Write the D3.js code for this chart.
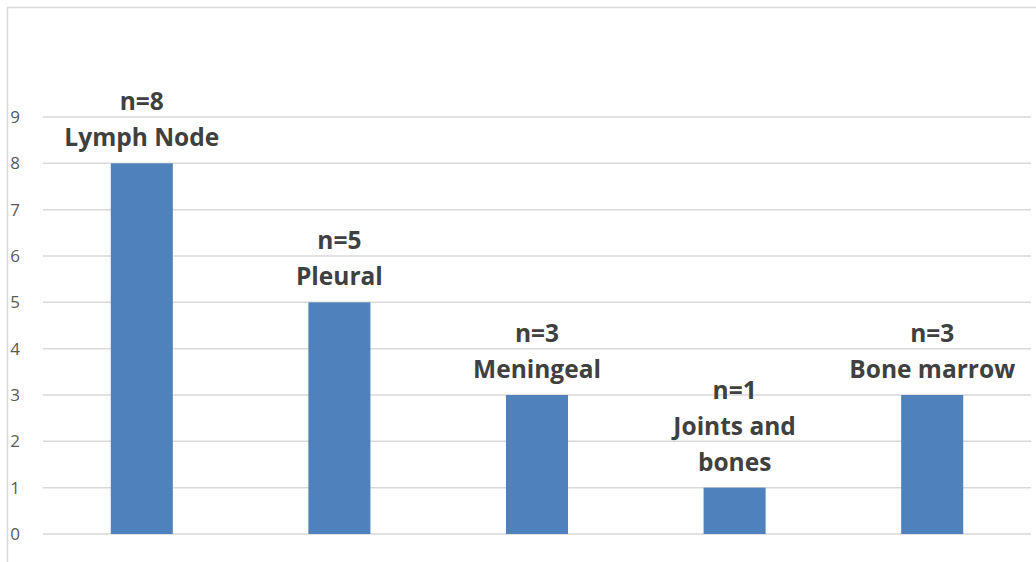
<!DOCTYPE html>
<meta charset="utf-8">
<style>
body { margin: 0; background: #fff; }
.tick text { font-family: "Open Sans", Lato, sans-serif; }
</style>
<svg width="1036" height="562"></svg>
<script src="https://cdn.jsdelivr.net/npm/d3@7"></script>
<script>

var sites = ["Lymph Node", "Pleural", "Meningeal", "Joints and bones", "Bone marrow"];
var counts = [8, 5, 3, 1, 3];
// label lines drawn above each bar
var labelLines = [
  ["n=8", "Lymph Node"],
  ["n=5", "Pleural"],
  ["n=3", "Meningeal"],
  ["n=1", "Joints and", "bones"],
  ["n=3", "Bone marrow"]
];
var yTicks = [0, 1, 2, 3, 4, 5, 6, 7, 8, 9];

var svg = d3.select("svg"),
    width = +svg.attr("width"),
    height = +svg.attr("height");

var margin = {left: 43, right: 5, top: 117, bottom: 28};

// chart frame (runs off the right and bottom edge)
svg.append("rect")
    .attr("x", 7.5).attr("y", 7.5)
    .attr("width", 1100).attr("height", 700)
    .attr("fill", "none")
    .attr("stroke", "#d9d9d9")
    .attr("stroke-width", 1.5);

var x = d3.scaleBand()
    .domain(sites)
    .range([margin.left, width - margin.right])
    .paddingInner(0.686)
    .paddingOuter(0.343);

var y = d3.scaleLinear()
    .domain([0, 9])
    .range([height - margin.bottom, margin.top]);

// gridlines
svg.append("g")
    .selectAll("line")
    .data(yTicks)
    .enter().append("line")
    .attr("x1", margin.left)
    .attr("x2", width - margin.right)
    .attr("y1", function(d) { return y(d); })
    .attr("y2", function(d) { return y(d); })
    .attr("stroke", "#d9d9d9")
    .attr("stroke-width", 1.5);

var yAxis = svg.append("g")
    .attr("transform", "translate(" + margin.left + ",0)")
    .call(d3.axisLeft(y).tickValues(yTicks).tickSize(0).tickPadding(28));
yAxis.select(".domain").remove();
yAxis.selectAll("text")
    .attr("fill", "#595959")
    .attr("font-size", "17px")
    .attr("text-anchor", "middle");

svg.append("g")
    .selectAll("rect")
    .data(counts)
    .enter().append("rect")
    .attr("x", function(d, i) { return x(sites[i]); })
    .attr("y", function(d) { return y(d); })
    .attr("width", x.bandwidth())
    .attr("height", function(d) { return y(0) - y(d); })
    .attr("fill", "#4f81bd");

var lineH = 36;
var labels = svg.append("g")
    .attr("font-family", "'Open Sans', Lato, sans-serif")
    .attr("font-weight", "bold")
    .attr("font-size", "24.5px")
    .attr("fill", "#404040")
    .attr("text-anchor", "middle");

counts.forEach(function(d, i) {
  var lines = labelLines[i];
  var cx = x(sites[i]) + x.bandwidth() / 2;
  var base = y(d) - 17;
  lines.forEach(function(t, j) {
    labels.append("text")
        .attr("x", cx)
        .attr("y", base - (lines.length - 1 - j) * lineH)
        .text(t);
  });
});

</script>
